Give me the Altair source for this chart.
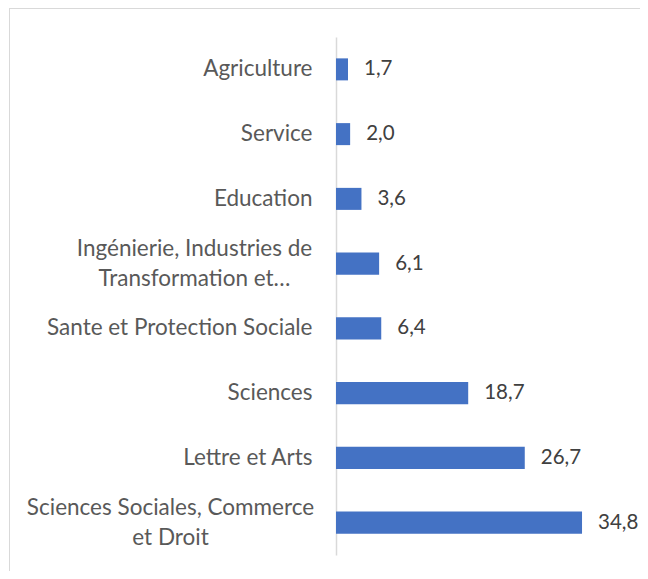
import altair as alt
import pandas as pd

categories = [
    "Agriculture",
    "Service",
    "Education",
    "Ingénierie, Industries de\nTransformation et…",
    "Sante et Protection Sociale",
    "Sciences",
    "Lettre et Arts",
    "Sciences Sociales, Commerce\net Droit",
]
values = [1.7, 2.0, 3.6, 6.1, 6.4, 18.7, 26.7, 34.8]

df = pd.DataFrame({"cat": categories, "value": values})

W, H = 304, 518
FONT = "Lato"
MULTI = "indexof(datum.value, '\\n') >= 0"

axis = alt.Axis(
    title=None,
    ticks=False,
    domainColor="#d9d9d9",
    domainWidth=1.5,
    labelFont=FONT,
    labelFontSize=22.5,
    labelColor="#595959",
    labelLineHeight=30,
    labelExpr="split(datum.label, '\\n')",
    labelLimit=400,
    labelAlign={"condition": {"test": MULTI, "value": "center"}, "value": "right"},
    labelOffset={"condition": {"test": MULTI, "value": -15}, "value": 0},
    labelPadding={
        "condition": [
            {"test": "indexof(datum.value, 'Droit') >= 0", "value": 166},
            {"test": "indexof(datum.value, 'Ingénierie') >= 0", "value": 142},
        ],
        "value": 24,
    },
)

y_enc = alt.Y(
    "cat:N",
    sort=None,
    scale=alt.Scale(paddingInner=0.66, paddingOuter=0.33),
    axis=axis,
)
x_enc = alt.X(
    "value:Q",
    scale=alt.Scale(domain=[0, 43]),
    axis=None,
)

bars = alt.Chart(df).mark_bar(color="#4472C4").encode(x=x_enc, y=y_enc)

texts = (
    alt.Chart(df)
    .transform_calculate(txt="replace(format(datum.value, '.1f'), '.', ',')")
    .mark_text(align="left", baseline="middle", dx=16, font=FONT, fontSize=20.5, color="#404040")
    .encode(x=x_enc, y=alt.Y("cat:N", sort=None), text="txt:N")
)

border = (
    alt.Chart(df)
    .mark_rect(fill=None, stroke="#d9d9d9", strokeWidth=1)
    .encode(
        x=alt.value(-326.5),
        x2=alt.value(W + 200),
        y=alt.value(-28.5),
        y2=alt.value(H + 200),
    )
)

chart = (
    alt.layer(border, bars, texts)
    .properties(
        width=W,
        height=H,
        autosize=alt.AutoSizeParams(type="none"),
        padding={"left": 328, "top": 29, "right": 0, "bottom": 16},
    )
    .configure_view(stroke=None)
)

chart.save("out.html", embed_options={"renderer": "svg", "actions": False})
